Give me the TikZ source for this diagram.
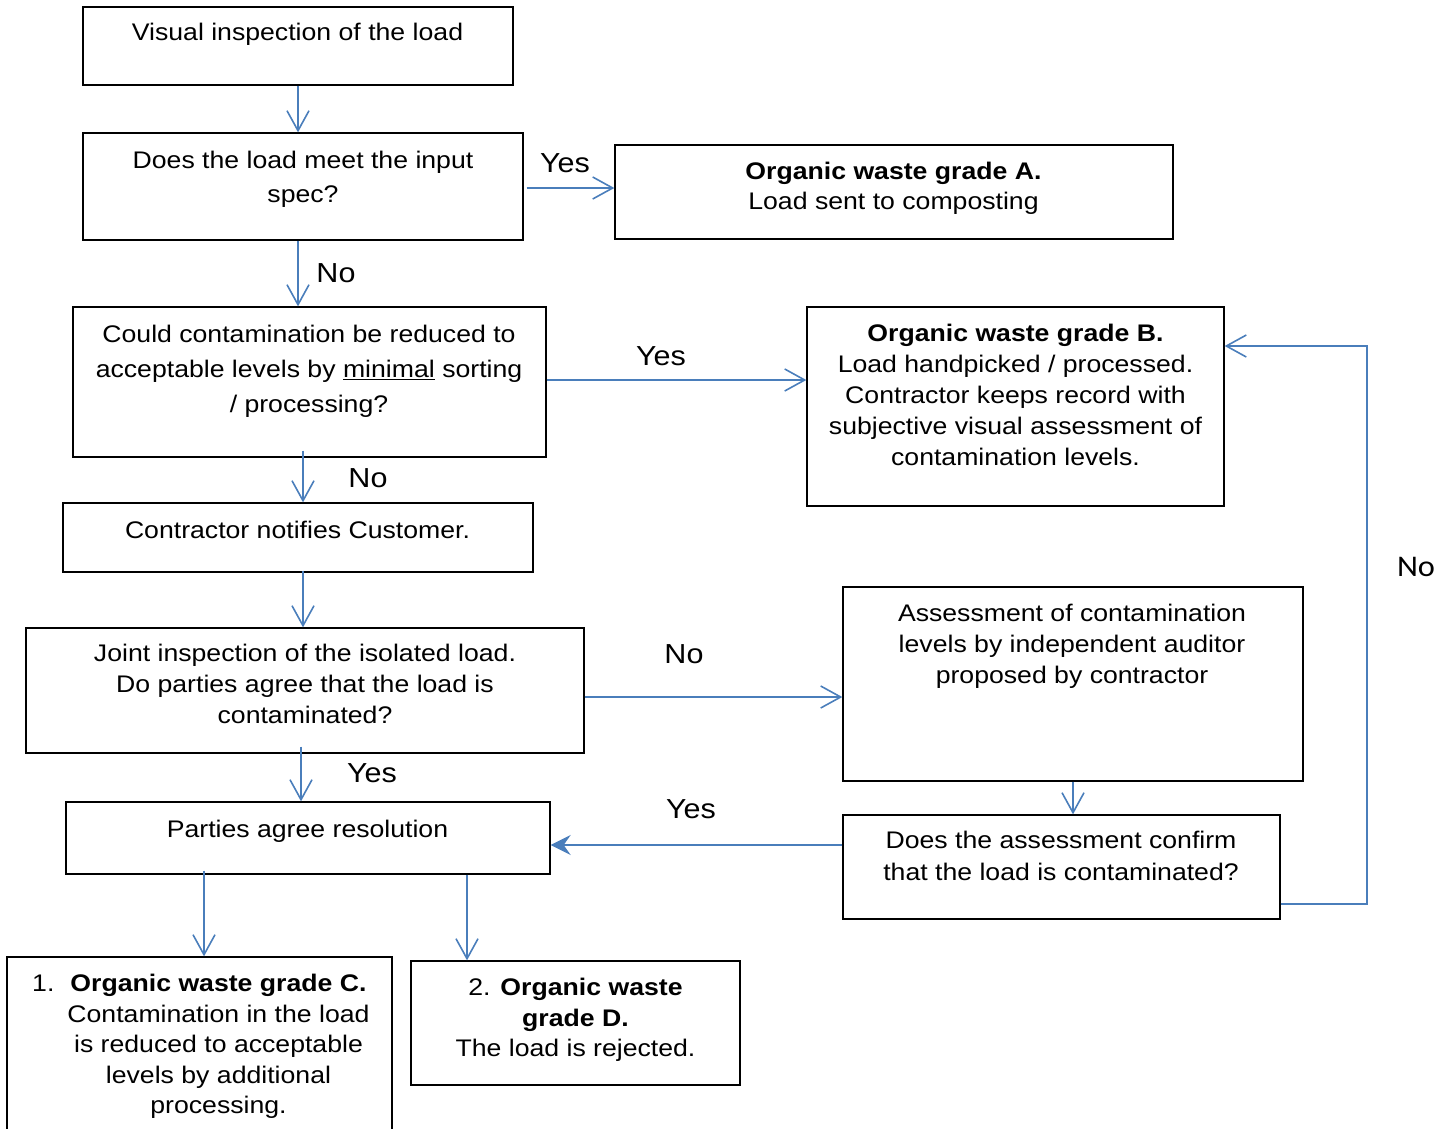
\documentclass[tikz,border=0pt]{standalone}
\usepackage{fontspec}
\setmainfont{Liberation Sans}[FakeStretch=1.11]
\newfontfamily\calfont{Carlito}[FakeStretch=1.08]
\usetikzlibrary{arrows.meta}
\definecolor{arrblue}{RGB}{74,126,187}
\tikzset{
  boxnode/.style={draw=black, line width=1.3pt, rectangle, inner sep=0pt, minimum width=#1},
  txt/.style={font=\fontsize{24}{31}\selectfont, align=center, inner sep=0pt, anchor=north},
  lbl/.style={font=\fontsize{27.5}{30}\selectfont, inner sep=0pt},
  arr/.style={draw=arrblue, line width=1.8pt, -{Straight Barb[length=20pt,width=22pt,line width=1.6pt]}},
  farr/.style={draw=arrblue, line width=1.8pt, -{Stealth[length=20pt,width=20pt,inset=7pt]}},
}
\begin{document}
\begin{tikzpicture}[x=1pt,y=-1pt]
\useasboundingbox (0,0) rectangle (1450,1128);
\clip (0,0) rectangle (1450,1128);
% boxes
\node[boxnode=430pt, minimum height=78pt] (b1) at (298,46) {};
\node[boxnode=440pt, minimum height=107pt] (b2) at (303,186.5) {};
\node[boxnode=558pt, minimum height=94pt] (b3) at (894,192) {};
\node[boxnode=473pt, minimum height=150pt] (b4) at (309.5,382) {};
\node[boxnode=417pt, minimum height=199pt] (b5) at (1015.5,406.5) {};
\node[boxnode=470pt, minimum height=69pt] (b6) at (298,537.5) {};
\node[boxnode=558pt, minimum height=125pt] (b7) at (305,690.5) {};
\node[boxnode=460pt, minimum height=194pt] (b8) at (1073,684) {};
\node[boxnode=484pt, minimum height=72pt] (b9) at (308,838) {};
\node[boxnode=437pt, minimum height=104pt] (b10) at (1061.5,867) {};
\node[boxnode=385pt, minimum height=200pt] (b11) at (199.5,1057) {};
\node[boxnode=329pt, minimum height=124pt] (b12) at (575.5,1023) {};
% texts
\node[txt] (t1) at (297.5,23) {Visual inspection of the load};
\node[txt, font=\fontsize{24}{34}\selectfont] (t2) at (303,151) {Does the load meet the input\\spec?};
\node[txt, font=\fontsize{24}{30}\selectfont] (t3) at (893.5,162) {\textbf{Organic waste grade A.}\\Load sent to composting};
\node[txt, font=\fontsize{24}{35}\selectfont] (t4) at (309,325) {Could contamination be reduced to\\acceptable levels by \underline{minimal} sorting\\/ processing?};
\node[txt] (t5) at (1015.5,323.5) {\textbf{Organic waste grade B.}\\Load handpicked / processed.\\Contractor keeps record with\\subjective visual assessment of\\contamination levels.};
\node[txt] (t6) at (297.5,521) {Contractor notifies Customer.};
\node[txt] (t7) at (305,644) {Joint inspection of the isolated load.\\Do parties agree that the load is\\contaminated?};
\node[txt] (t8) at (1072,604) {Assessment of contamination\\levels by independent auditor\\proposed by contractor};
\node[txt] (t9) at (307.5,820) {Parties agree resolution};
\node[txt, font=\fontsize{24}{32}\selectfont] (t10) at (1061,831) {Does the assessment confirm\\that the load is contaminated?};
\node[txt, font=\fontsize{24}{30.5}\selectfont] (t11) at (218.5,974) {\llap{1.\hspace{16pt}}\textbf{Organic waste grade C.}\\Contamination in the load\\is reduced to acceptable\\levels by additional\\processing.};
\node[txt, font=\fontsize{24}{30.5}\selectfont] (t12) at (575.5,978) {2. \textbf{Organic waste}\\\textbf{grade D.}\\The load is rejected.};
% labels
\node[lbl] (l1) at (565,163) {Yes};
\node[lbl] (l2) at (336,273) {No};
\node[lbl] (l3) at (661,356) {Yes};
\node[lbl] (l4) at (368,478) {No};
\node[lbl] (l5) at (684,654) {No};
\node[lbl] (l6) at (372,773) {Yes};
\node[lbl] (l7) at (691,809) {Yes};
\node[lbl, font=\calfont\fontsize{30}{32}\selectfont] (l8) at (1416,567) {No};
% connectors
\draw[arr] (b1.south) -- (b1.south |- b2.north);
\draw[arr] ([xshift=3pt,yshift=-1.5pt]b2.east) -- ([yshift=-1.5pt]b2.east -| b3.west);
\draw[arr] ([xshift=-5pt]b2.south) -- ([xshift=-5pt]b2.south |- b4.north);
\draw[arr] ([yshift=2pt]b4.east) -- ([yshift=2pt]b4.east -| b5.west);
\draw[arr] ([xshift=-6.5pt,yshift=7pt]b4.south) -- ([xshift=-6.5pt]b4.south |- b6.north);
\draw[arr] ([xshift=5pt,yshift=2pt]b6.south) -- ([xshift=5pt]b6.south |- b7.north);
\draw[arr] ([yshift=-6.5pt]b7.east) -- ([yshift=-6.5pt]b7.east -| b8.west);
\draw[arr] ([xshift=-4pt,yshift=7pt]b7.south) -- ([xshift=-4pt]b7.south |- b9.north);
\draw[arr] (b8.south) -- (b8.south |- b10.north);
\draw[farr] ([yshift=22pt]b10.west) -- ([yshift=22pt]b10.west -| b9.east);
\coordinate (loop) at (1367,346);
\draw[arr] ([yshift=-37pt]b10.east) -| (loop) -- (loop -| b5.east);
\draw[arr] ([xshift=-104pt,yshift=4pt]b9.south) -- ([xshift=-104pt]b9.south |- b11.north);
\draw[arr] ([xshift=159pt]b9.south) -- ([xshift=159pt]b9.south |- b12.north);
\end{tikzpicture}
\end{document}
